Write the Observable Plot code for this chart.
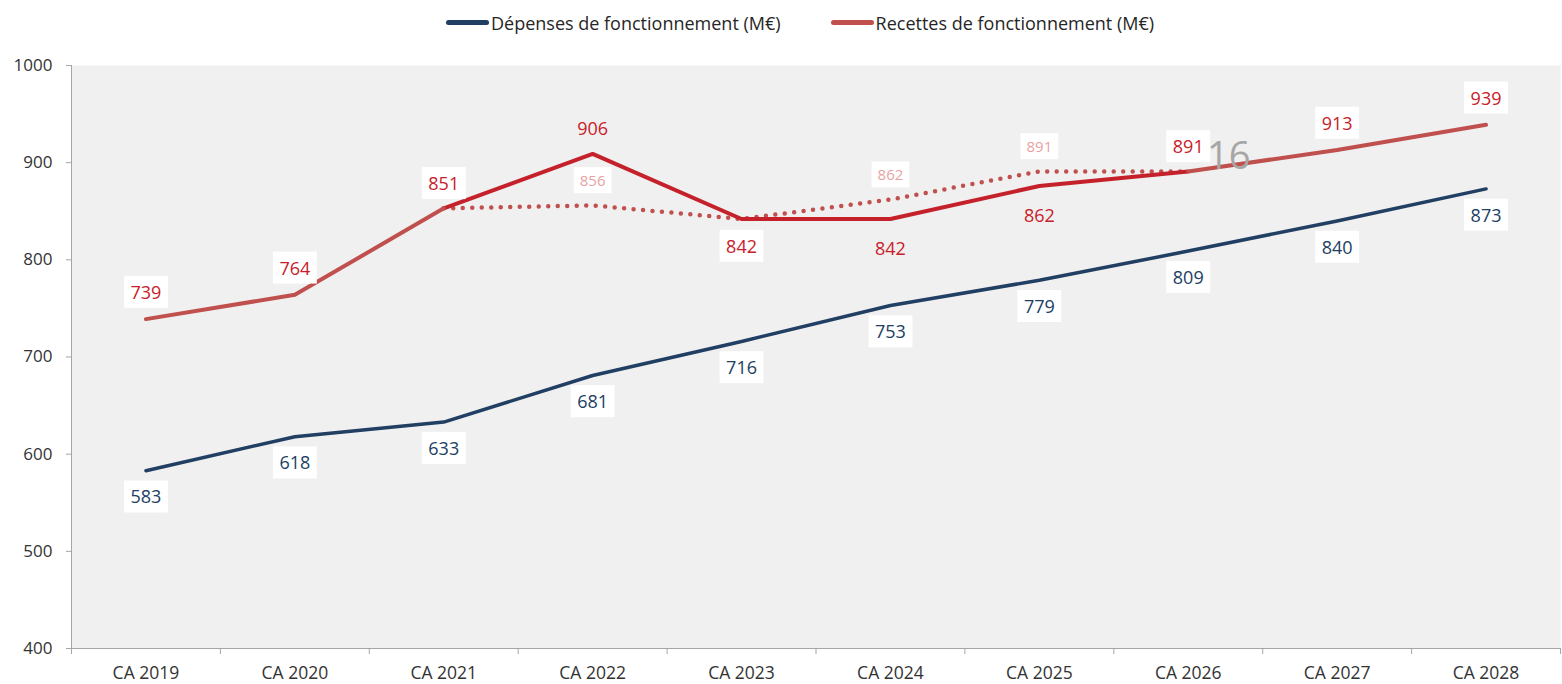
<!DOCTYPE html>
<html><head><meta charset="utf-8">
<script src="https://cdn.jsdelivr.net/npm/d3@7"></script>
<script src="https://cdn.jsdelivr.net/npm/@observablehq/plot@0.6"></script>
<style>
body{margin:0;background:#fff;font-family:"Open Sans",sans-serif;}
#wrap{position:relative;width:1562px;height:684px;overflow:hidden;}
#legend{height:45px;display:flex;align-items:center;padding-left:446px;font-size:18px;color:#262626;box-sizing:border-box;}
.item{display:flex;align-items:center;}
.swatch{width:43px;height:4.5px;border-radius:3px;margin-right:2px;}
#pg{position:absolute;left:1207px;top:128px;font-size:38px;color:#A6A6A6;font-family:"Open Sans",sans-serif;}
</style></head><body>
<div id="wrap">
<div id="legend"></div>
<div id="chart"></div>
<div id="pg">16</div>
</div>
<script>
const categories = ["CA 2019","CA 2020","CA 2021","CA 2022","CA 2023","CA 2024","CA 2025","CA 2026","CA 2027","CA 2028"];
const depenses = [583,618,633,681,716,753,779,809,840,873];
const recettes = [739,764,853,null,null,null,null,891,913,939];
const recettesLabels = ["739","764",null,null,null,null,null,null,"913","939"];
const realise = [null,null,853,909,842,842,876,891,null,null];
const realiseLabels = [null,null,"851","906","842","842","862","891",null,null];
const prevision = [null,null,853,856,842,862,891,891,null,null];
const previsionLabels = [null,null,null,"856",null,"862","891",null,null,null];
const yTicks = [400,500,600,700,800,900,1000];
const seriesNames = ["Dépenses de fonctionnement (M€)","Recettes de fonctionnement (M€)"];

const BLUE="#213E63", RED="#C0504D", DARK="#C4212B", REDTXT="#C8202A", PINK="#E6A3A3", GREY="#A6A6A6";

// legend
const leg=document.getElementById("legend");
[[seriesNames[0],BLUE],[seriesNames[1],RED]].forEach(([t,c],k)=>{
  const it=document.createElement("div");it.className="item";
  if(k>0) it.style.marginLeft="50px";
  it.innerHTML=`<div class="swatch" style="background:${c}"></div><span>${t}</span>`;
  leg.appendChild(it);
});

const rows = categories.map((c,i)=>({i,c,dep:depenses[i],rec:recettes[i],recL:recettesLabels[i],
  real:realise[i],realL:realiseLabels[i],prev:prevision[i],prevL:previsionLabels[i]}));
const xDomain=[-0.5,categories.length-0.5];
const aboveDark=new Set([2,3,7]);
const boxedDark=new Set([2,4,7]);

const chart = Plot.plot({
  width:1562, height:639,
  marginLeft:71, marginRight:2, marginTop:20, marginBottom:36,
  x:{domain:xDomain},
  y:{domain:[400,1000]},
  style:{fontFamily:"'Open Sans',sans-serif",fontSize:"17px",background:"transparent",overflow:"visible"},
  marks:[
    Plot.frame({fill:"#F0F0F0",stroke:null}),
    Plot.ruleY([400],{stroke:GREY}),
    Plot.ruleX([xDomain[0]],{stroke:GREY}),
    Plot.axisY(yTicks,{tickSize:5,tickPadding:14,tickFormat:d=>String(d),stroke:GREY,fill:"#333",fontSize:17,label:null}),
    Plot.axisX(d3.range(categories.length+1).map(i=>i-0.5),{tickSize:6,tickFormat:()=>"",stroke:GREY,label:null}),
    Plot.axisX(d3.range(categories.length),{tickSize:0,tickPadding:18,tickFormat:i=>categories[i],fill:"#333",fontSize:17.5,label:null}),
    Plot.line(rows,{x:"i",y:"prev",stroke:RED,strokeWidth:4.5,strokeDasharray:"0 9.5",strokeLinecap:"round"}),
    Plot.line(rows,{x:"i",y:"real",stroke:DARK,strokeWidth:4}),
    Plot.line(rows,{x:"i",y:"rec",stroke:RED,strokeWidth:4,strokeLinecap:"round"}),
    Plot.line(rows,{x:"i",y:"dep",stroke:BLUE,strokeWidth:3.5,strokeLinecap:"round"}),
    // text marks (order matters for boxing below)
    Plot.text(rows,{x:"i",y:"dep",text:d=>String(d.dep),dy:27,fill:BLUE,fontSize:18}),
    Plot.text(rows.filter(d=>d.recL),{x:"i",y:"rec",text:"recL",dy:-26,fill:REDTXT,fontSize:18}),
    Plot.text(rows.filter(d=>d.realL&&aboveDark.has(d.i)&&boxedDark.has(d.i)),{x:"i",y:"real",text:"realL",dy:-24,fill:REDTXT,fontSize:18}),
    Plot.text(rows.filter(d=>d.realL&&aboveDark.has(d.i)&&!boxedDark.has(d.i)),{x:"i",y:"real",text:"realL",dy:-25,fill:REDTXT,fontSize:18}),
    Plot.text(rows.filter(d=>d.realL&&!aboveDark.has(d.i)&&boxedDark.has(d.i)),{x:"i",y:"real",text:"realL",dy:28,fill:REDTXT,fontSize:18}),
    Plot.text(rows.filter(d=>d.realL&&!aboveDark.has(d.i)&&!boxedDark.has(d.i)),{x:"i",y:"real",text:"realL",dy:30,fill:REDTXT,fontSize:18}),
    Plot.text(rows.filter(d=>d.prevL),{x:"i",y:"prev",text:"prevL",dy:-24,fill:PINK,fontSize:15})
  ]
});
document.getElementById("chart").appendChild(chart);

function addBoxes(g,padX,padY){
  if(!g) return;
  g.querySelectorAll("text").forEach(t=>{
    const b=t.getBBox();
    const r=document.createElementNS("http://www.w3.org/2000/svg","rect");
    r.setAttribute("x",b.x-padX);r.setAttribute("y",b.y-padY);
    r.setAttribute("width",b.width+2*padX);r.setAttribute("height",b.height+2*padY);
    r.setAttribute("fill","#fff");r.setAttribute("stroke","none");
    const tr=t.getAttribute("transform"); if(tr) r.setAttribute("transform",tr);
    t.parentNode.insertBefore(r,t);
  });
}
const textGroups=[...chart.querySelectorAll('g[aria-label="text"]')];
[0,1,2,4].forEach(k=>addBoxes(textGroups[k],6.5,4));
addBoxes(textGroups[6],6,3);
</script>
</body></html>
